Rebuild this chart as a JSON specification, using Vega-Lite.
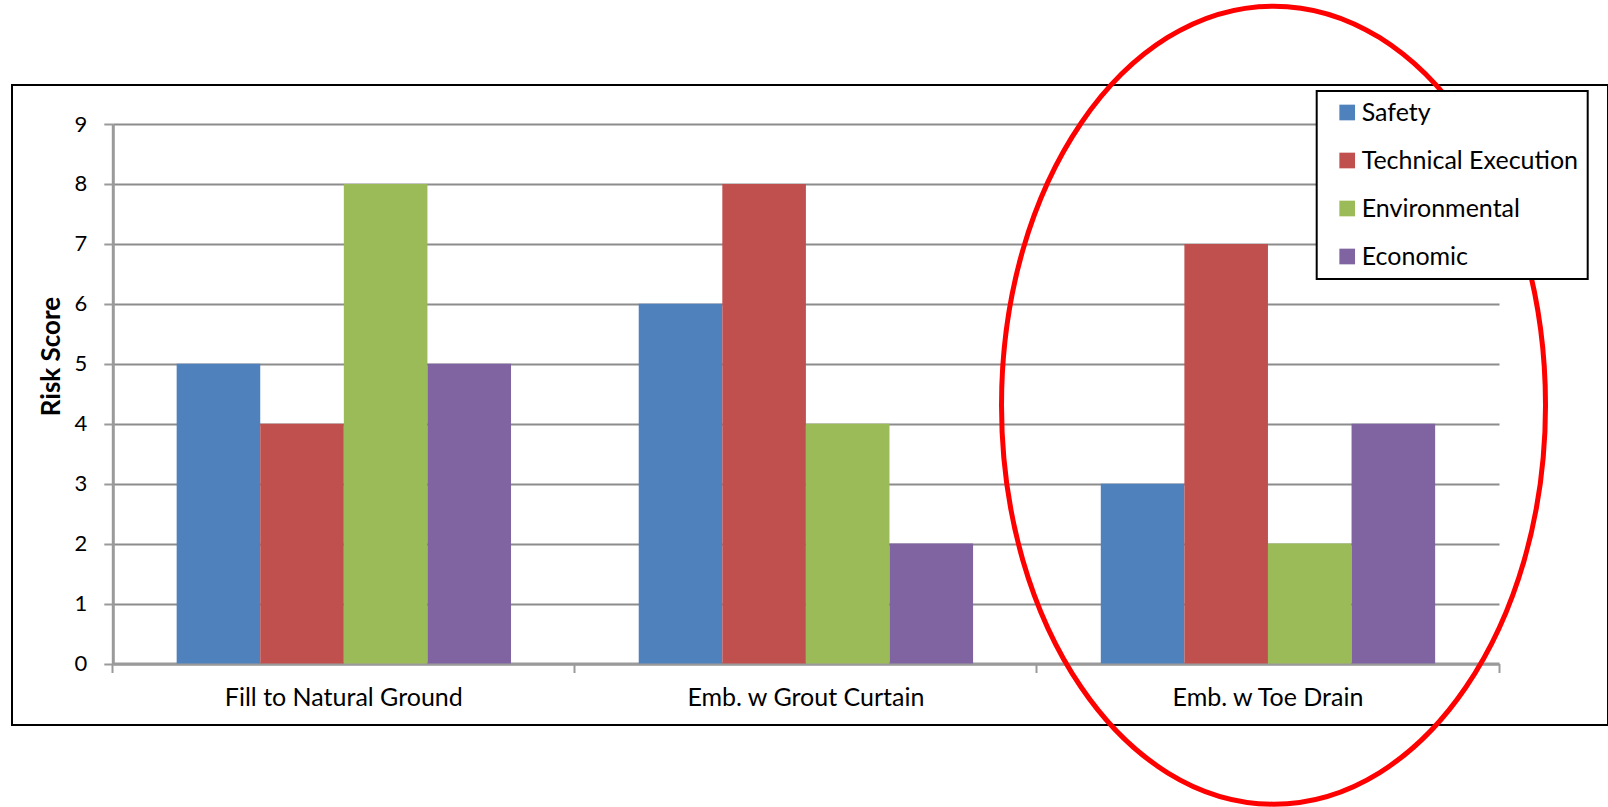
{
  "$schema": "https://vega.github.io/schema/vega-lite/v6.json",
  "autosize": "none",
  "width": 1596,
  "height": 640,
  "padding": {"left": 12, "top": 85, "right": 0, "bottom": 82},
  "background": "white",
  "config": {
    "view": {"stroke": "black", "strokeWidth": 2},
    "font": "Lato",
    "legend": {"strokeWidth": 2}
  },
  "datasets": {
    "scores": [
      {"category": "Fill to Natural Ground", "factor": "Safety", "score": 5},
      {"category": "Fill to Natural Ground", "factor": "Technical Execution", "score": 4},
      {"category": "Fill to Natural Ground", "factor": "Environmental", "score": 8},
      {"category": "Fill to Natural Ground", "factor": "Economic", "score": 5},
      {"category": "Emb. w Grout Curtain", "factor": "Safety", "score": 6},
      {"category": "Emb. w Grout Curtain", "factor": "Technical Execution", "score": 8},
      {"category": "Emb. w Grout Curtain", "factor": "Environmental", "score": 4},
      {"category": "Emb. w Grout Curtain", "factor": "Economic", "score": 2},
      {"category": "Emb. w Toe Drain", "factor": "Safety", "score": 3},
      {"category": "Emb. w Toe Drain", "factor": "Technical Execution", "score": 7},
      {"category": "Emb. w Toe Drain", "factor": "Environmental", "score": 2},
      {"category": "Emb. w Toe Drain", "factor": "Economic", "score": 4}
    ],
    "highlight": [
      {"category": "Emb. w Toe Drain", "score": 4.31}
    ]
  },
  "layer": [
    {
      "data": {"name": "scores"},
      "mark": {"type": "bar"},
      "encoding": {
        "x": {
          "field": "category",
          "type": "nominal",
          "scale": {
            "domain": ["Fill to Natural Ground", "Emb. w Grout Curtain", "Emb. w Toe Drain"],
            "range": [100.8, 1487],
            "paddingInner": 0,
            "paddingOuter": 0
          },
          "axis": {
            "title": null,
            "offset": -61.5,
            "bandPosition": 1,
            "tickExtra": true,
            "ticks": true,
            "tickSize": 9,
            "tickColor": "#9a9a9a",
            "tickWidth": 2,
            "domainColor": "#9a9a9a",
            "domainWidth": 3,
            "labelFont": "Lato",
            "labelFontSize": 25,
            "labelPadding": 13,
            "labelColor": "black",
            "labelAngle": 0,
            "labelLimit": 400,
            "grid": false
          }
        },
        "xOffset": {
          "field": "factor",
          "type": "nominal",
          "scale": {
            "domain": ["Safety", "Technical Execution", "Environmental", "Economic"],
            "paddingInner": 0,
            "paddingOuter": 0.764
          }
        },
        "y": {
          "field": "score",
          "type": "quantitative",
          "scale": {"domain": [0, 9], "range": [578.5, 39], "nice": false, "zero": true},
          "axis": {
            "title": "Risk Score",
            "titleFont": "Lato",
            "titleFontSize": 26,
            "titleFontWeight": "bold",
            "titleColor": "black",
            "titleAngle": -90,
            "titleAlign": "center",
            "titleBaseline": "alphabetic",
            "titleX": -53,
            "titleY": 271,
            "values": [0, 1, 2, 3, 4, 5, 6, 7, 8, 9],
            "format": "d",
            "offset": -100.8,
            "domainColor": "#9a9a9a",
            "domainWidth": 3,
            "tickColor": "#9a9a9a",
            "tickWidth": 2,
            "tickSize": 9,
            "labelPadding": 17,
            "labelFont": "Lato",
            "labelFontSize": 22,
            "labelColor": "black",
            "labelOverlap": false,
            "labelFlush": false,
            "grid": true,
            "gridColor": "#8c8c8c",
            "gridWidth": 2
          }
        },
        "color": {
          "field": "factor",
          "type": "nominal",
          "scale": {
            "domain": ["Safety", "Technical Execution", "Environmental", "Economic"],
            "range": ["#4F81BD", "#C0504D", "#9BBB59", "#8064A2"]
          },
          "legend": {
            "orient": "none",
            "legendX": 1304.7,
            "legendY": 6,
            "title": null,
            "strokeColor": "black",
            "fillColor": "white",
            "padding": 9,
            "symbolType": "square",
            "symbolSize": 246,
            "symbolStrokeWidth": 0,
            "symbolOpacity": 1,
            "symbolOffset": 9,
            "labelFont": "Lato",
            "labelFontSize": 25,
            "labelColor": "black",
            "labelOffset": 2,
            "labelExpr": "datum.label + '\u00a0\u00a0'",
            "rowPadding": 22,
            "labelLimit": 400
          }
        }
      }
    },
    {
      "data": {"name": "highlight"},
      "mark": {
        "type": "point",
        "shape": "M 0 -1 C 0.3765 -1 0.6817 -0.5523 0.6817 0 C 0.6817 0.5523 0.3765 1 0 1 C -0.3765 1 -0.6817 0.5523 -0.6817 0 C -0.6817 -0.5523 -0.3765 -1 0 -1 Z",
        "filled": false,
        "color": "#FF0000",
        "strokeWidth": 5,
        "opacity": 1,
        "size": 636804
      },
      "encoding": {
        "x": {"field": "category", "type": "nominal", "bandPosition": 0.512},
        "y": {"field": "score", "type": "quantitative"}
      }
    }
  ]
}
